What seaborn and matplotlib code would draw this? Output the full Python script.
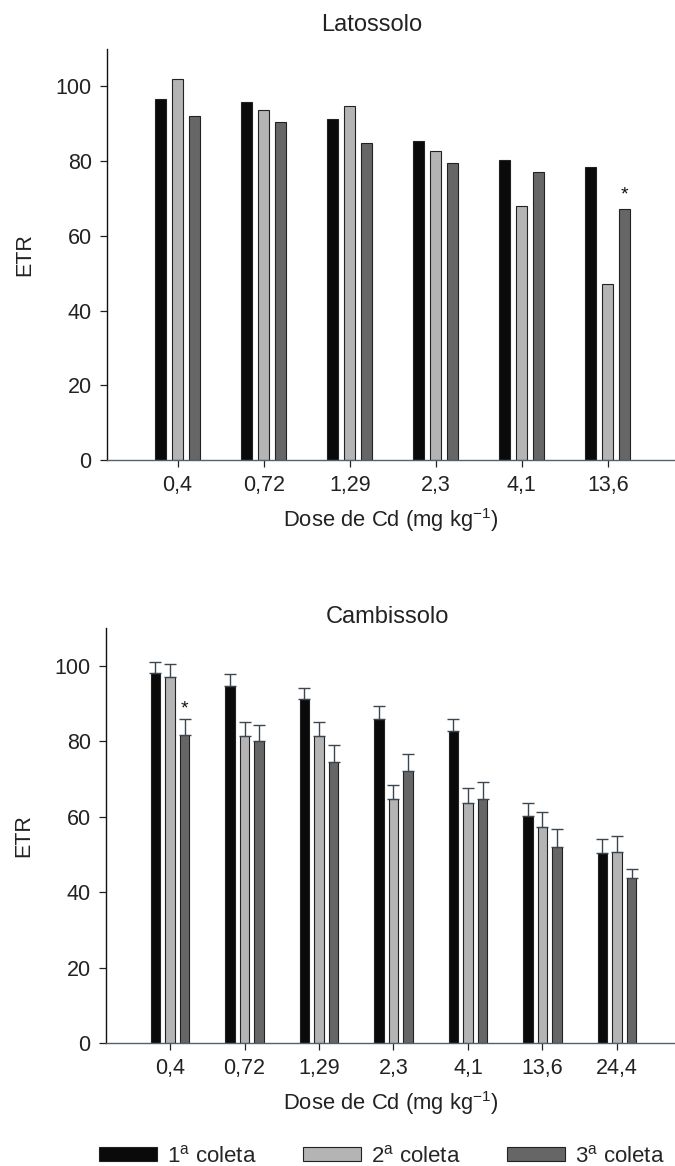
import numpy as np
import pandas as pd
import matplotlib
matplotlib.use("Agg")
import matplotlib.pyplot as plt
from matplotlib.patches import Patch
import seaborn as sns

# ---------------- data ----------------
coletas = ["1ª coleta", "2ª coleta", "3ª coleta"]
legend_labels = [r"1$^{\mathrm{a}}$ coleta", r"2$^{\mathrm{a}}$ coleta", r"3$^{\mathrm{a}}$ coleta"]
colors = ["#0a0a0a", "#b4b4b4", "#666666"]

lat_doses = ["0,4", "0,72", "1,29", "2,3", "4,1", "13,6"]
lat_c1 = [96.6, 95.8, 91.2, 85.5, 80.2, 78.3]
lat_c2 = [101.9, 93.6, 94.7, 82.7, 68.0, 47.1]
lat_c3 = [92.0, 90.4, 84.9, 79.5, 77.0, 67.1]

cam_doses = ["0,4", "0,72", "1,29", "2,3", "4,1", "13,6", "24,4"]
cam_c1 = [98.0, 94.7, 91.1, 85.9, 82.8, 60.1, 50.4]
cam_c2 = [96.9, 81.5, 81.5, 64.6, 63.5, 57.2, 50.6]
cam_c3 = [81.6, 80.0, 74.5, 72.2, 64.6, 52.0, 43.8]
cam_e1 = [3.0, 3.1, 3.1, 3.3, 3.1, 3.4, 3.7]
cam_e2 = [3.6, 3.5, 3.6, 3.8, 4.0, 3.9, 4.2]
cam_e3 = [4.2, 4.2, 4.6, 4.5, 4.5, 4.7, 2.4]

# significance marks: (coleta index, dose index, y)
lat_star = (2, 5, 71.0)
cam_star = (2, 0, 88.5)

# ---------------- style ----------------
sns.set_theme(style="ticks")
plt.rcParams["font.family"] = ["Liberation Sans", "DejaVu Sans"]
plt.rcParams["mathtext.fontset"] = "custom"
plt.rcParams["mathtext.rm"] = "Liberation Sans"
plt.rcParams["mathtext.it"] = "Liberation Sans:italic"

W, H = 675, 1166
fig = plt.figure(figsize=(W / 100, H / 100), dpi=100)


def frame(doses, c1, c2, c3):
    rows = []
    for vals, col in zip([c1, c2, c3], coletas):
        for d, v in zip(doses, vals):
            rows.append({"dose": d, "coleta": col, "ETR": v})
    return pd.DataFrame(rows)


def panel(rect, doses, c1, c2, c3, errs, title, title_x, title_y, star):
    ax = fig.add_axes(rect)
    df = frame(doses, c1, c2, c3)
    sns.barplot(data=df, x="dose", y="ETR", hue="coleta", order=doses,
                hue_order=coletas, palette=colors, width=0.59, gap=0.35,
                edgecolor="#222222", linewidth=0.8, errorbar=None,
                legend=False, ax=ax)
    bars = list(ax.containers[:3])
    if errs is not None:
        for k, cont in enumerate(bars):
            xs = [b.get_x() + b.get_width() / 2 for b in cont]
            hs = [b.get_height() for b in cont]
            e = errs[k]
            ax.errorbar(xs, hs, yerr=[np.zeros(len(e)), e], fmt="none",
                        ecolor="#3c4650", elinewidth=1.0, capsize=4.5,
                        capthick=1.0, zorder=1)
    # star
    si, sj, sy = star
    b = bars[si][sj]
    ax.text(b.get_x() + b.get_width() / 2, sy, "*", ha="center", va="center",
            fontsize=14, color="#111111")
    n = len(doses)
    ax.set_xlim(-0.82 if n == 6 else -0.86, n - 1 + 0.78)
    ax.set_ylim(0, 110)
    ax.set_yticks([0, 20, 40, 60, 80, 100])
    ax.tick_params(axis="both", labelsize=15.5, length=5, width=0.9,
                   direction="out", colors="#222222")
    ax.tick_params(axis="x", pad=6)
    ax.tick_params(axis="y", pad=6)
    ax.set_xlabel(r"Dose de Cd (mg kg$^{\mathrm{-1}}$)", fontsize=15.8, labelpad=7,
                  color="#222222")
    ax.set_ylabel("ETR", fontsize=15.5, labelpad=15, color="#222222")
    for s in ["top", "right"]:
        ax.spines[s].set_visible(False)
    ax.spines["left"].set_color("#111111")
    ax.spines["bottom"].set_color("#55606a")
    ax.spines["left"].set_linewidth(1.0)
    ax.spines["bottom"].set_linewidth(1.0)
    fig.text(title_x / W, 1 - title_y / H, title, ha="center", va="center",
             fontsize=17, color="#222222")
    return ax


ax1 = panel([107 / W, 1 - 460 / H, 1 - 107 / W, (460 - 49) / H],
            lat_doses, lat_c1, lat_c2, lat_c3, None,
            "Latossolo", 372, 25, lat_star)
ax2 = panel([106 / W, 1 - 1043 / H, 1 - 106 / W, (1043 - 628) / H],
            cam_doses, cam_c1, cam_c2, cam_c3, [cam_e1, cam_e2, cam_e3],
            "Cambissolo", 387, 617, cam_star)

handles = [Patch(facecolor=c, edgecolor="#222222", linewidth=0.8) for c in colors]
fig.legend(handles, legend_labels, loc="center left",
           bbox_to_anchor=(99 / W, 1 - 1156 / H), ncol=3, frameon=False,
           fontsize=16, handlelength=2.6, handleheight=0.6, handletextpad=0.45,
           columnspacing=2.1, borderpad=0, borderaxespad=0)

fig.savefig("out.png", dpi=100)
